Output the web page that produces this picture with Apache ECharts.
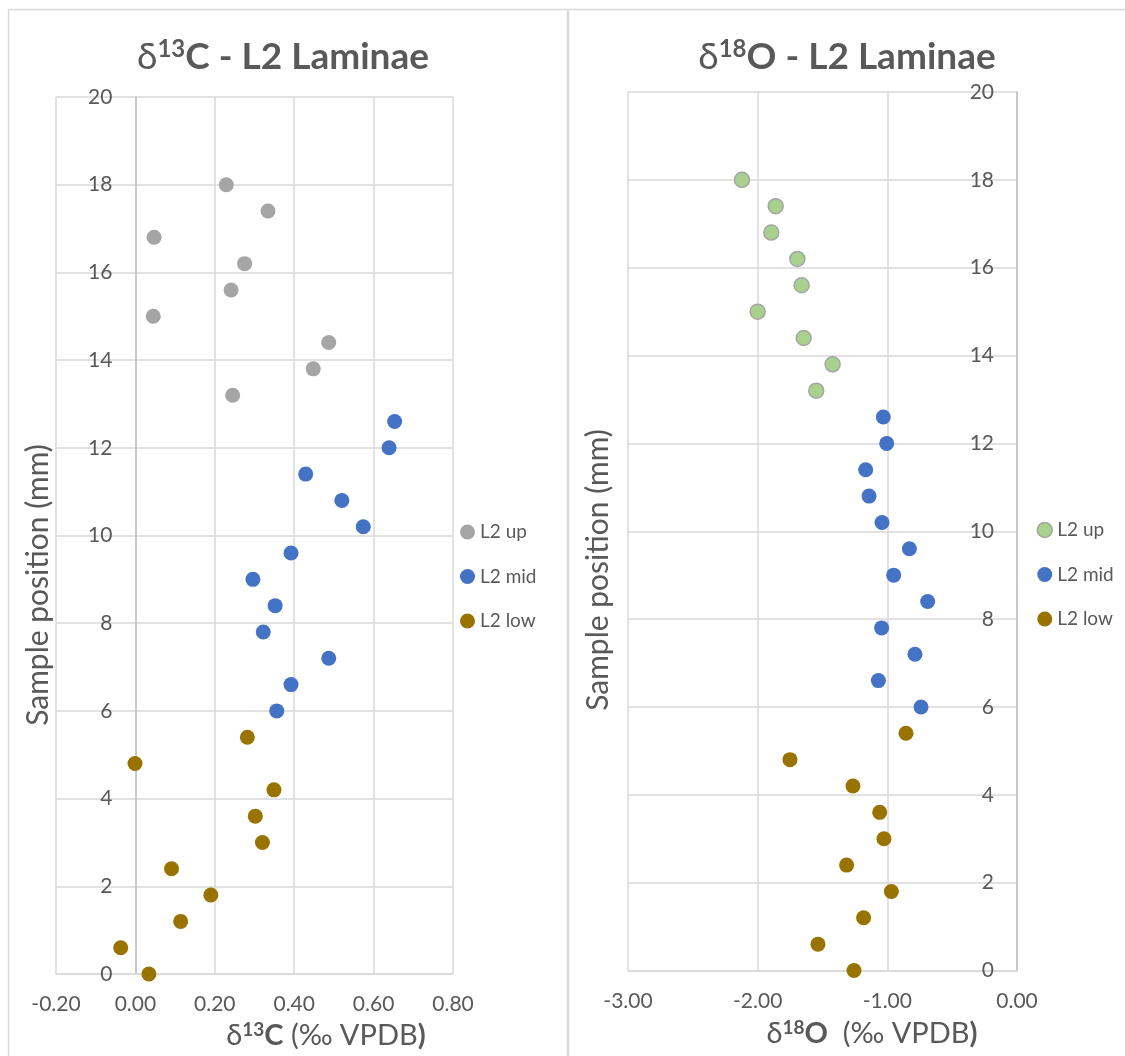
<!DOCTYPE html>
<html>
<head>
<meta charset="utf-8">
<script src="https://cdn.jsdelivr.net/npm/echarts@6/dist/echarts.min.js"></script>
<style>
  html, body { margin: 0; padding: 0; background: #ffffff; }
  #chart { width: 1125px; height: 1056px; }
</style>
</head>
<body>
<div id="chart"></div>
<script>
// ---- Data (sample position in mm, isotope values in ‰ VPDB) ----
const seriesNames = ['L2 up', 'L2 mid', 'L2 low'];

const positionUp  = [13.2, 13.8, 14.4, 15.0, 15.6, 16.2, 16.8, 17.4, 18.0];
const positionMid = [6.0, 6.6, 7.2, 7.8, 8.4, 9.0, 9.6, 10.2, 10.8, 11.4, 12.0, 12.6];
const positionLow = [0.0, 0.6, 1.2, 1.8, 2.4, 3.0, 3.6, 4.2, 4.8, 5.4];

const d13C_up  = [0.245, 0.448, 0.487, 0.045, 0.241, 0.275, 0.047, 0.334, 0.229];
const d13C_mid = [0.356, 0.392, 0.487, 0.322, 0.352, 0.296, 0.392, 0.574, 0.520, 0.429, 0.639, 0.653];
const d13C_low = [0.034, -0.037, 0.114, 0.190, 0.091, 0.320, 0.302, 0.349, -0.001, 0.282];

const d18O_up  = [-1.548, -1.422, -1.645, -2.000, -1.661, -1.694, -1.895, -1.861, -2.121];
const d18O_mid = [-0.740, -1.069, -0.787, -1.044, -0.689, -0.951, -0.830, -1.041, -1.141, -1.167, -1.005, -1.031];
const d18O_low = [-1.257, -1.535, -1.183, -0.969, -1.314, -1.026, -1.059, -1.265, -1.751, -0.856];

// axis ranges (tick labels)
const xTicksC = [-0.2, 0.0, 0.2, 0.4, 0.6, 0.8];
const xTicksO = [-3, -2, -1, 0];
const yTicks  = [0, 2, 4, 6, 8, 10, 12, 14, 16, 18, 20];

// ---- Styling ----
const F = 'Lato, "Noto Sans", "DejaVu Sans", sans-serif';
const TXT = '#595959';
const GRID = '#d9d9d9';
const cGray = '#a5a5a5', cBlue = '#4472c4', cGold = '#997300', cGreen = '#a9d18e';

const gridC = { left: 56, top: 97, width: 397, height: 877 };
const gridO = { left: 628, top: 92, width: 389, height: 878.5 };

function pairs(xs, ys) { return xs.map((x, i) => [x, ys[i]]); }

function xAxisCfg(idx, ticks) {
  return {
    type: 'value', gridIndex: idx,
    min: ticks[0], max: ticks[ticks.length - 1], interval: ticks[1] - ticks[0],
    axisLine: { show: true, onZero: false, lineStyle: { color: GRID, width: 1.5 } },
    axisTick: { show: false },
    splitLine: { show: true, lineStyle: { color: GRID, width: 1.5 } },
    axisLabel: { margin: 20, color: TXT, fontFamily: F, fontSize: 21, formatter: v => v.toFixed(2) }
  };
}
// y axis drawn where x = 0 (moved inward from the grid's left edge by `shift` px)
function yAxisCfg(idx, ticks, grid) {
  const shift = grid.width * (0 - ticks[0]) / (ticks[ticks.length - 1] - ticks[0]);
  return {
    type: 'value', gridIndex: idx, position: 'left', offset: -shift,
    min: yTicks[0], max: yTicks[yTicks.length - 1], interval: yTicks[1] - yTicks[0],
    axisLine: { show: true, onZero: false, lineStyle: { color: '#bfbfbf', width: 1.5 } },
    axisTick: { show: false },
    splitLine: { show: true, lineStyle: { color: GRID, width: 1.5 } },
    axisLabel: { margin: 23, color: TXT, fontFamily: F, fontSize: 21 }
  };
}

function scatter(name, data, xi, color, border) {
  return {
    name: name, type: 'scatter', xAxisIndex: xi, yAxisIndex: xi,
    data: data, symbol: 'circle', symbolSize: 15,
    itemStyle: border ? { color: color, borderColor: border, borderWidth: 1.5, opacity: 1 } : { color: color, opacity: 1 },
    emphasis: { disabled: true }
  };
}

function legendCfg(left, top, styles) {
  return {
    orient: 'vertical', left: left, top: top,
    icon: 'circle', itemWidth: 15, itemHeight: 15, itemGap: 25.5,
    textStyle: { fontFamily: F, fontSize: 19, color: TXT },
    data: seriesNames.map((n, i) => ({ name: n, itemStyle: styles[i] })),
    selectedMode: false
  };
}

const titleRich = (big, sup, lhBig, lhSup) => ({
  n: { fontFamily: F, fontSize: big, fontWeight: 'normal', fill: TXT, lineHeight: lhBig },
  b: { fontFamily: F, fontSize: big, fontWeight: 'bold', fill: TXT, lineHeight: lhBig },
  s: { fontFamily: F, fontSize: sup, fontWeight: 'bold', fill: TXT, lineHeight: lhSup, verticalAlign: 'top' }
});

function richText(x, y, text, rich) {
  return { type: 'text', x: x, y: y, z: 10,
    style: { text: text, rich: rich, align: 'center', verticalAlign: 'middle', fill: TXT } };
}
function rotText(x, y, text, size) {
  return { type: 'text', x: x, y: y, rotation: Math.PI / 2, z: 10,
    style: { text: text, align: 'center', verticalAlign: 'middle', fill: TXT,
      font: 'normal ' + size + 'px ' + F } };
}

const chart = echarts.init(document.getElementById('chart'), null, { renderer: 'canvas' });
chart.setOption({
  animation: false,
  backgroundColor: '#ffffff',
  grid: [gridC, gridO],
  xAxis: [xAxisCfg(0, xTicksC), xAxisCfg(1, xTicksO)],
  yAxis: [yAxisCfg(0, xTicksC, gridC), yAxisCfg(1, xTicksO, gridO)],
  legend: [
    legendCfg(455, 517.5, [{ color: cGray }, { color: cBlue }, { color: cGold }]),
    legendCfg(1031.5, 515.5, [{ color: cGreen, borderColor: cGray, borderWidth: 1.5 }, { color: cBlue }, { color: cGold }])
  ],
  series: [
    scatter(seriesNames[0], pairs(d13C_up, positionUp), 0, cGray),
    scatter(seriesNames[1], pairs(d13C_mid, positionMid), 0, cBlue),
    scatter(seriesNames[2], pairs(d13C_low, positionLow), 0, cGold),
    scatter(seriesNames[0], pairs(d18O_up, positionUp), 1, cGreen, cGray),
    scatter(seriesNames[1], pairs(d18O_mid, positionMid), 1, cBlue),
    scatter(seriesNames[2], pairs(d18O_low, positionLow), 1, cGold)
  ],
  graphic: [
    { type: 'rect', z: -1, shape: { x: 8.5, y: 9.5, width: 559, height: 1100 },
      style: { fill: 'none', stroke: GRID, lineWidth: 1.5 } },
    { type: 'rect', z: -1, shape: { x: 568.5, y: 9.5, width: 600, height: 1100 },
      style: { fill: 'none', stroke: GRID, lineWidth: 1.5 } },
    richText(283, 57, '{n|δ}{s|13}{b|C - L2 Laminae}', titleRich(37, 24, 40, 34)),
    richText(847, 57, '{n|δ}{s|18}{b|O - L2 Laminae}', titleRich(37, 24, 40, 34)),
    richText(326, 1036, '{n|δ}{s|13}{b|C}{n| (‰ VPDB}{b|)}', titleRich(29, 19, 32, 26)),
    richText(872, 1034, '{n|δ}{s|18}{b|O}{n|  (‰ VPDB}{b|)}', titleRich(29, 19, 32, 26)),
    rotText(38, 585, 'Sample position (mm)', 30),
    rotText(598, 570, 'Sample position (mm)', 30)
  ]
});
</script>
</body>
</html>
